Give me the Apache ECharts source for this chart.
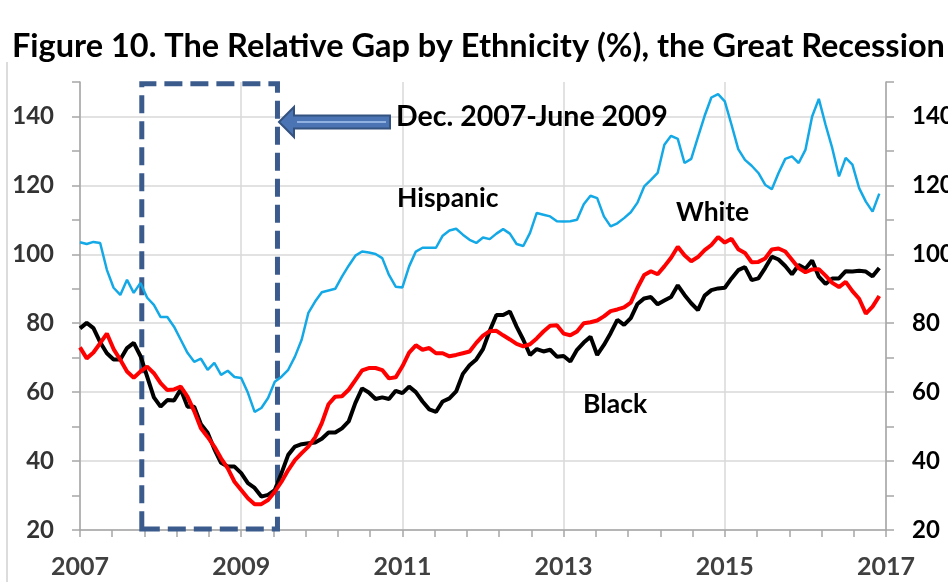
<!DOCTYPE html>
<html>
<head>
<meta charset="utf-8">
<script src="https://cdn.jsdelivr.net/npm/echarts@6/dist/echarts.min.js"></script>
<style>
  html, body { margin: 0; padding: 0; background: #fff; }
  #main { width: 948px; height: 582px; }
</style>
</head>
<body>
<div id="main"></div>
<script>
// monthly values, Jan 2007 .. Dec 2016 (month index 0..119)
var startYear = 2007;
var hispanic = [
  103.5, 103, 103.6, 103.3, 95.5, 90.3, 88.2, 92.6, 88.8, 91.7,
  87.4, 85.3, 81.8, 81.8, 79, 75.2, 71.4, 68.8, 69.7, 66.5,
  68.5, 65, 66.2, 64.4, 64.1, 59.8, 54.3, 55.4, 58.3, 63,
  64.5, 66.5, 70.3, 75.2, 83, 86.3, 89, 89.5, 90, 93.5,
  96.7, 99.6, 100.8, 100.5, 100.1, 98.9, 94, 90.6, 90.4, 96.5,
  100.8, 101.9, 101.9, 101.9, 105.4, 106.9, 107.4, 105.7, 104.2, 103.3,
  104.9, 104.4, 106, 107.3, 106, 103, 102.4, 106.2, 112, 111.5,
  111, 109.6, 109.5, 109.6, 110, 114.5, 117, 116.3, 111, 108.1,
  109, 110.5, 112.2, 115, 119.7, 121.6, 123.6, 131.8, 134.4, 133.5,
  126.5, 127.7, 134, 140.2, 145.5, 146.5, 144.4, 137.6, 130.5, 127.4,
  125.7, 123.6, 120.2, 118.9, 123.6, 127.7, 128.4, 126.5, 130.3, 140,
  145.1, 137.6, 130.8, 122.6, 128, 126, 119.2, 115.3, 112.4, 117.6
];
var black = [
  78.5, 80.1, 78.6, 74.5, 71.3, 69.5, 69.5, 72.8, 74.3, 70.5,
  64.5, 58.5, 55.8, 57.7, 57.6, 60.8, 55.8, 55.8, 50.7, 48.2,
  43.5, 39.5, 38.4, 38.4, 36.5, 33.6, 32.2, 29.7, 30.2, 31.6,
  36.5, 41.8, 44.2, 44.9, 45.2, 45.4, 46.5, 48.3, 48.3, 49.5,
  51.5, 56.9, 61.1, 59.9, 58, 58.5, 58, 60.4, 59.7, 61.6,
  60, 57.3, 55, 54.3, 57.3, 58.2, 60.2, 65.3, 67.8, 69.5,
  72.5, 77.8, 82.4, 82.4, 83.4, 79, 75.2, 70.8, 72.5, 71.8,
  72.3, 70.3, 70.5, 68.9, 72.3, 74.4, 76.1, 70.8, 73.7, 77.1,
  81, 79.5, 81.5, 85.6, 87.2, 87.6, 85.5, 86.6, 87.6, 91,
  88.2, 85.8, 83.8, 88, 89.6, 90.1, 90.3, 93, 95.4, 96.3,
  92.5, 93, 96, 99.3, 98.5, 96.6, 94.2, 96.9, 95.8, 98.2,
  93.5, 91.4, 93, 93, 95.1, 95, 95.2, 95, 93.6, 96
];
var white = [
  73, 69.8, 71.5, 74.2, 77, 72.5, 69.4, 66, 64.2, 66,
  67.4, 65.5, 62.6, 60.6, 60.8, 61.6, 58.7, 54.5, 49.5, 47,
  44.2, 40.8, 37.9, 34, 31.6, 29.2, 27.5, 27.5, 28.7, 31.1,
  34, 37.4, 40.3, 42.3, 44.2, 46.9, 51, 56.5, 58.7, 58.8,
  60.7, 63.5, 66.3, 67, 67, 66.4, 64, 64.3, 67.5, 71.5,
  73.6, 72.3, 72.8, 71.3, 71.3, 70.4, 70.8, 71.3, 71.8, 74.3,
  76.4, 77.7, 77.8, 76.5, 75.3, 74, 73.3, 73.9, 75.6, 77.6,
  79.3, 79.4, 77, 76.5, 77.6, 80, 80.3, 80.8, 82, 83.5,
  84, 84.6, 86, 90.3, 94, 95.1, 94.2, 96.5, 99, 102.2,
  99.7, 98, 99.2, 101.2, 102.7, 105, 103.4, 104.5, 101.5, 100.4,
  97.7, 97.8, 98.8, 101.4, 101.7, 100.8, 98.4, 96, 94.8, 95.6,
  95.7, 93.8, 91.7, 90.5, 92, 89.3, 87.1, 82.8, 84.8, 87.9
];
// recession box, in month index and y value
var recessionBox = [[9.2, 20.3], [29.4, 149.5]];

function pairs(arr) {
  return arr.map(function (v, i) { return [i, v]; });
}

var chartDom = document.getElementById("main");
var myChart = echarts.init(chartDom);
var option;

var FONT = "Lato";
var gridGrey = "#d9d9d9";
var axisGrey = "#a6a6a6";

function yAxisBase(pos, labelColor, showSplit, margin) {
  return {
    type: "value",
    position: pos,
    min: 20,
    max: 150,
    interval: 10,
    axisLine: { show: true, lineStyle: { color: axisGrey, width: 1.5 } },
    axisTick: { show: true, inside: false, length: 8, lineStyle: { color: axisGrey, width: 1.5 } },
    axisLabel: {
      margin: margin,
      color: labelColor,
      fontFamily: FONT,
      fontWeight: "bold",
      fontSize: 24,
      formatter: function (v) { return (v - 20) % 20 === 0 && v <= 140 ? String(v) : ""; }
    },
    splitLine: {
      show: showSplit,
      lineStyle: { color: [gridGrey, "rgba(0,0,0,0)"], width: 1.5 }
    }
  };
}

option = {
  backgroundColor: "#ffffff",
  animation: false,
  title: {
    text: "Figure 10. The Relative Gap by Ethnicity (%), the Great Recession",
    left: 7,
    top: 25,
    textStyle: { fontFamily: FONT, fontWeight: "bold", fontSize: 32.5, color: "#000" }
  },
  grid: { left: 80, right: 62, top: 82, bottom: 52, containLabel: false, outerBoundsMode: "none" },
  xAxis: {
    type: "value",
    min: 0,
    max: 120,
    interval: 24,
    axisLine: { show: true, onZero: false, lineStyle: { color: axisGrey, width: 1.5 } },
    axisTick: { show: true, length: 7, lineStyle: { color: axisGrey, width: 1.5 } },
    minorTick: { show: true, splitNumber: 5, length: 7, lineStyle: { color: axisGrey, width: 1.5 } },
    axisLabel: {
      margin: 24,
      color: "#404040",
      fontFamily: FONT,
      fontWeight: "bold",
      fontSize: 25,
      formatter: function (v) { return String(startYear + v / 12); }
    },
    splitLine: { show: true, lineStyle: { color: gridGrey, width: 1.5 } }
  },
  yAxis: [
    yAxisBase("left", "#333333", true, 26),
    yAxisBase("right", "#000000", false, 26)
  ],
  series: [
    {
      name: "Hispanic",
      type: "line",
      data: pairs(hispanic),
      showSymbol: false,
      lineStyle: { color: "#13a8e6", width: 2.5 },
      z: 2,
      markArea: {
        silent: true,
        itemStyle: {
          color: "rgba(0,0,0,0)",
          borderColor: "#3b5b8c",
          borderWidth: 5,
          borderType: [18, 8]
        },
        data: [[{ coord: recessionBox[0] }, { coord: recessionBox[1] }]]
      }
    },
    {
      name: "Black",
      type: "line",
      data: pairs(black),
      showSymbol: false,
      lineStyle: { color: "#000000", width: 4 },
      z: 3
    },
    {
      name: "White",
      type: "line",
      data: pairs(white),
      showSymbol: false,
      lineStyle: { color: "#ff0000", width: 4 },
      z: 4
    }
  ],
  graphic: [
    { type: "line", shape: { x1: 7, y1: 62, x2: 7, y2: 582 }, style: { stroke: "#d0d0d0", lineWidth: 1.5 } },
    {
      type: "polygon",
      shape: { points: [[279, 122], [294, 107], [294, 115.5], [390, 115.5], [390, 128.5], [294, 128.5], [294, 137]] },
      style: { fill: "#4a74b4", stroke: "#34527f", lineWidth: 2 },
      z: 10
    },
    { type: "line", shape: { x1: 297, y1: 122, x2: 386, y2: 122 }, style: { stroke: "#8fb0e0", lineWidth: 2 }, z: 11 },
    { type: "text", left: 396, top: 102, style: { text: "Dec. 2007-June 2009", font: "bold 28.5px Lato", fill: "#000" }, z: 10 },
    { type: "text", left: 397, top: 185, style: { text: "Hispanic", font: "bold 26.5px Lato", fill: "#000" }, z: 10 },
    { type: "text", left: 676, top: 199, style: { text: "White", font: "bold 26.5px Lato", fill: "#000" }, z: 10 },
    { type: "text", left: 583, top: 391, style: { text: "Black", font: "bold 26.5px Lato", fill: "#000" }, z: 10 }
  ]
};

option && myChart.setOption(option);
</script>
</body>
</html>
